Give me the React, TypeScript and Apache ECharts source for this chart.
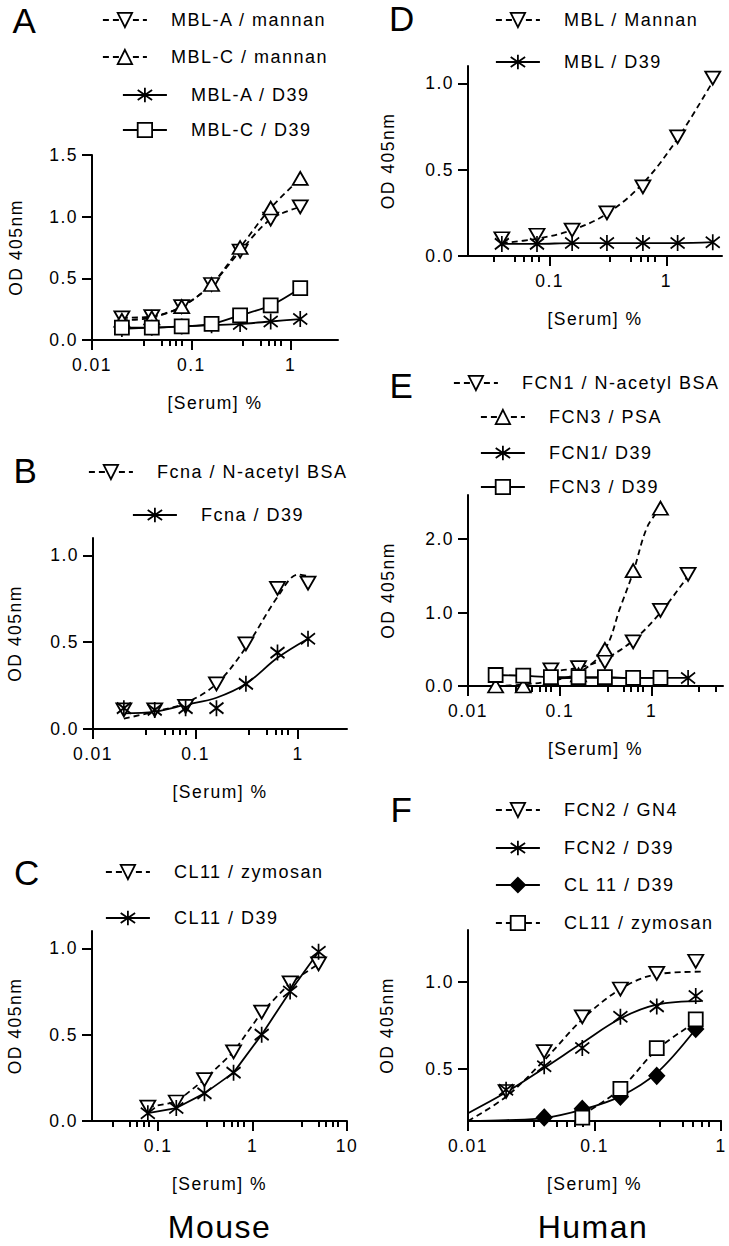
import { useEffect, useRef } from 'react';
import * as echarts from 'echarts';

const FONT = '"Liberation Sans", Arial, Helvetica, sans-serif';

// ---- values: [Serum] % (x) and OD 405nm (y) ----

// A: mouse MBL
const xA = [0.02, 0.04, 0.08, 0.16, 0.31, 0.63, 1.25];
const mblAMannan = [0.18, 0.19, 0.27, 0.45, 0.72, 0.98, 1.08];
const mblCMannan = [0.16, 0.18, 0.27, 0.45, 0.75, 1.07, 1.31];
const mblAD39 = [0.09, 0.1, 0.11, 0.12, 0.13, 0.15, 0.17];
const mblCD39 = [0.1, 0.1, 0.11, 0.13, 0.2, 0.28, 0.42];

// B: mouse ficolin A
const xB = [0.02, 0.04, 0.08, 0.16, 0.31, 0.63, 1.25];
const fcnaNAcetyl = [0.11, 0.11, 0.13, 0.26, 0.49, 0.81, 0.84];
const fcnaD39 = [0.12, 0.11, 0.12, 0.12, 0.26, 0.44, 0.52];
const fcnaNAcetylFit = [[0.02, 0.06], [0.04, 0.1], [0.08, 0.15], [0.16, 0.26], [0.31, 0.47], [0.63, 0.76], [1.0, 0.89], [1.25, 0.88]];
const fcnaD39Fit = [[0.02, 0.09], [0.04, 0.1], [0.08, 0.14], [0.16, 0.18], [0.31, 0.26], [0.63, 0.41], [1.25, 0.52]];

// C: mouse CL-11
const xC = [0.078, 0.156, 0.31, 0.63, 1.25, 2.5, 5];
const cl11Zymosan = [0.08, 0.11, 0.24, 0.4, 0.63, 0.8, 0.91];
const cl11D39 = [0.045, 0.075, 0.16, 0.28, 0.5, 0.75, 0.98];

// D: human MBL
const xD = [0.039, 0.078, 0.156, 0.31, 0.63, 1.25, 2.5];
const mblMannan = [0.1, 0.12, 0.15, 0.25, 0.4, 0.69, 1.03];
const mblD39 = [0.07, 0.07, 0.075, 0.075, 0.075, 0.075, 0.08];
const mblMannanFit = [[0.039, 0.075], [0.078, 0.1], [0.156, 0.15], [0.31, 0.245], [0.63, 0.42], [1.25, 0.68], [2.5, 1.01]];

// E: human ficolin-1 / ficolin-3
const xE = [0.02, 0.04, 0.08, 0.16, 0.31, 0.63, 1.25, 2.5];
const fcn1NAcetyl = [null, null, 0.22, 0.25, 0.33, 0.6, 1.03, 1.52];
const fcn3Psa = [0, 0, 0.1, 0.15, 0.5, 1.57, 2.42, null];
const fcn1D39 = [null, null, 0.1, 0.11, 0.11, 0.11, 0.11, 0.11];
const fcn3D39 = [0.15, 0.14, 0.12, 0.12, 0.12, 0.11, 0.11, null];
const fcn1NAcetylFit = [[0.08, 0.2], [0.16, 0.25], [0.31, 0.37], [0.63, 0.62], [1.25, 1.0], [2.5, 1.5]];
const fcn3PsaFit = [[0.02, 0.0], [0.04, 0.02], [0.08, 0.07], [0.16, 0.18], [0.31, 0.5], [0.45, 1.05], [0.63, 1.55], [0.9, 2.17], [1.25, 2.42]];

// F: human ficolin-2 / CL-11
const xF = [0.02, 0.04, 0.08, 0.16, 0.31, 0.63];
const fcn2Gn4 = [0.37, 0.6, 0.8, 0.96, 1.05, 1.12];
const fcn2D39 = [0.38, 0.515, 0.62, 0.8, 0.86, 0.92];
const cl11D39Human = [null, 0.22, 0.27, 0.34, 0.46, 0.73];
const cl11ZymosanHuman = [null, null, 0.22, 0.385, 0.62, 0.785];
const fcn2Gn4Fit = [[0.01, 0.2], [0.02, 0.34], [0.04, 0.55], [0.08, 0.785], [0.16, 0.96], [0.31, 1.045], [0.7, 1.06]];
const fcn2D39Fit = [[0.01, 0.245], [0.02, 0.365], [0.04, 0.505], [0.08, 0.65], [0.16, 0.79], [0.31, 0.87], [0.7, 0.89]];
const cl11D39HumanFit = [[0.01, 0.2], [0.02, 0.205], [0.04, 0.217], [0.08, 0.265], [0.16, 0.342], [0.31, 0.477], [0.63, 0.73]];
const cl11ZymosanHumanFit = [[0.08, 0.235], [0.16, 0.385], [0.31, 0.61], [0.63, 0.77]];

// tick marks
const xMajorA = [0.01, 0.1, 1];
const xMajorC = [0.1, 1, 10];
const xMajorD = [0.1, 1];
const xMinorSteps = [3.3, 5, 6, 7, 8];
const decades = [0.001, 0.01, 0.1, 1, 10];
const yTicksA = [0, 0.5, 1, 1.5];
const yTicksB = [0, 0.5, 1];
const yTicksE = [0, 1, 2];
const yTicksF = [0.5, 1];

// ---- marker styles ----
type Marker = { symbol: string; size: number | number[]; rotate: number; fill: string };
const ASTERISK = 'path://M7,0L7,16M0,2.5L14,13.5M0,13.5L14,2.5';
const DOWN: Marker = { symbol: 'triangle', size: [15, 13], rotate: 180, fill: '#fff' };
const UP: Marker = { symbol: 'triangle', size: [15, 13], rotate: 0, fill: '#fff' };
const STAR: Marker = { symbol: ASTERISK, size: [14, 16], rotate: 0, fill: '#000' };
const SQUARE: Marker = { symbol: 'rect', size: 14, rotate: 0, fill: '#fff' };
const DIAMOND: Marker = { symbol: 'diamond', size: [15, 16], rotate: 0, fill: '#000' };

type Curve = { name: string; x: number[]; y: (number | null)[]; fit?: number[][]; marker: Marker; dashed: boolean };
type Panel = {
  id: string;
  box: [number, number, number, number];
  xRange: [number, number];
  yRange: [number, number];
  xMajor: number[];
  yTicks: number[];
  yGap: number;
  smooth: number | false;
  legend: [number, number][];
  curves: Curve[];
};

const PANELS: Panel[] = [
  {
    id: 'A', box: [92, 155, 246, 185], xRange: [0.01, 3], yRange: [0, 1.5], xMajor: xMajorA, yTicks: yTicksA, yGap: 67, smooth: 0.3,
    legend: [[102, 20], [102, 57], [122, 95], [122, 130]],
    curves: [
      { name: 'MBL-A / mannan', x: xA, y: mblAMannan, marker: DOWN, dashed: true },
      { name: 'MBL-C / mannan', x: xA, y: mblCMannan, marker: UP, dashed: true },
      { name: 'MBL-A / D39', x: xA, y: mblAD39, marker: STAR, dashed: false },
      { name: 'MBL-C / D39', x: xA, y: mblCD39, marker: SQUARE, dashed: false },
    ],
  },
  {
    id: 'B', box: [93, 538, 254, 191], xRange: [0.01, 3], yRange: [0, 1.1], xMajor: xMajorA, yTicks: yTicksB, yGap: 69, smooth: 0.35,
    legend: [[88, 472], [132, 515]],
    curves: [
      { name: 'Fcna / N-acetyl BSA', x: xB, y: fcnaNAcetyl, fit: fcnaNAcetylFit, marker: DOWN, dashed: true },
      { name: 'Fcna / D39', x: xB, y: fcnaD39, fit: fcnaD39Fit, marker: STAR, dashed: false },
    ],
  },
  {
    id: 'C', box: [92, 931, 255, 190], xRange: [0.02, 10], yRange: [0, 1.1], xMajor: xMajorC, yTicks: yTicksB, yGap: 68, smooth: false,
    legend: [[105, 872], [105, 918]],
    curves: [
      { name: 'CL11 / zymosan', x: xC, y: cl11Zymosan, marker: DOWN, dashed: true },
      { name: 'CL11 / D39', x: xC, y: cl11D39, marker: STAR, dashed: false },
    ],
  },
  {
    id: 'D', box: [468, 66, 254, 190], xRange: [0.02, 3], yRange: [0, 1.1], xMajor: xMajorD, yTicks: yTicksB, yGap: 71, smooth: 0.35,
    legend: [[495, 20], [495, 62]],
    curves: [
      { name: 'MBL / Mannan', x: xD, y: mblMannan, fit: mblMannanFit, marker: DOWN, dashed: true },
      { name: 'MBL / D39', x: xD, y: mblD39, marker: STAR, dashed: false },
    ],
  },
  {
    id: 'E', box: [468, 495, 255, 191], xRange: [0.01, 6], yRange: [0, 2.6], xMajor: xMajorA, yTicks: yTicksE, yGap: 71, smooth: 0.35,
    legend: [[453, 383], [480, 417], [480, 453], [480, 487]],
    curves: [
      { name: 'FCN1 / N-acetyl BSA', x: xE, y: fcn1NAcetyl, fit: fcn1NAcetylFit, marker: DOWN, dashed: true },
      { name: 'FCN3 / PSA', x: xE, y: fcn3Psa, fit: fcn3PsaFit, marker: UP, dashed: true },
      { name: 'FCN1/ D39', x: xE, y: fcn1D39, marker: STAR, dashed: false },
      { name: 'FCN3 / D39', x: xE, y: fcn3D39, marker: SQUARE, dashed: false },
    ],
  },
  {
    id: 'F', box: [468, 930, 254, 191], xRange: [0.01, 1], yRange: [0.2, 1.3], xMajor: xMajorA, yTicks: yTicksF, yGap: 72, smooth: 0.35,
    legend: [[495, 810], [495, 848], [495, 885], [495, 923]],
    curves: [
      { name: 'FCN2 / GN4', x: xF, y: fcn2Gn4, fit: fcn2Gn4Fit, marker: DOWN, dashed: true },
      { name: 'FCN2 / D39', x: xF, y: fcn2D39, fit: fcn2D39Fit, marker: STAR, dashed: false },
      { name: 'CL 11 / D39', x: xF, y: cl11D39Human, fit: cl11D39HumanFit, marker: DIAMOND, dashed: false },
      { name: 'CL11 / zymosan', x: xF, y: cl11ZymosanHuman, fit: cl11ZymosanHumanFit, marker: SQUARE, dashed: true },
    ],
  },
];

const LETTERS = [
  { t: 'A', x: 25, y: 20 },
  { t: 'B', x: 26, y: 470.5 },
  { t: 'C', x: 27.5, y: 872.5 },
  { t: 'D', x: 402.5, y: 18.5 },
  { t: 'E', x: 402, y: 385 },
  { t: 'F', x: 402, y: 809.5 },
];
const GROUPS = [
  { t: 'Mouse', x: 219.5, y: 1226.5 },
  { t: 'Human', x: 593, y: 1226.5 },
];

const DASH = [6, 4];
const LINE_W = 1.8;
const BORDER_W = 1.8;
const fmtX = (v: number) => String(parseFloat(Number(v).toPrecision(6)));
const textBase = { color: '#000', fontFamily: FONT };

function buildOption(): echarts.EChartsOption {
  const grid: any[] = [];
  const xAxis: any[] = [];
  const yAxis: any[] = [];
  const series: any[] = [];
  const legend: any[] = [];

  PANELS.forEach((p, i) => {
    const [left, top, width, height] = p.box;
    grid.push({ left, top, width, height });

    const minor: number[] = [];
    decades.forEach((d) =>
      xMinorSteps.forEach((s) => {
        const v = parseFloat((d * s).toPrecision(6));
        if (v > p.xRange[0] && v < p.xRange[1]) minor.push(v);
      })
    );

    xAxis.push({
      type: 'log', gridIndex: i, min: p.xRange[0], max: p.xRange[1], position: 'bottom',
      axisLine: { onZero: false, lineStyle: { color: '#000', width: 2 } },
      axisTick: { customValues: p.xMajor, length: 10, lineStyle: { color: '#000', width: 2 } },
      axisLabel: { customValues: p.xMajor, formatter: fmtX, margin: 16, fontSize: 17.5, ...textBase },
      splitLine: { show: false },
      name: '[Serum] %', nameLocation: 'middle', nameGap: 54,
      nameTextStyle: { fontSize: 17.5, ...textBase },
    });
    xAxis.push({
      type: 'log', gridIndex: i, min: p.xRange[0], max: p.xRange[1], position: 'bottom',
      axisLine: { show: false, onZero: false },
      axisTick: { customValues: minor, length: 6, lineStyle: { color: '#000', width: 2 } },
      axisLabel: { show: false },
      splitLine: { show: false },
    });
    yAxis.push({
      type: 'value', gridIndex: i, min: p.yRange[0], max: p.yRange[1],
      axisLine: { show: true, onZero: false, lineStyle: { color: '#000', width: 2 } },
      axisTick: { show: true, customValues: p.yTicks, length: 10, lineStyle: { color: '#000', width: 2 } },
      axisLabel: { customValues: p.yTicks, formatter: (v: number) => v.toFixed(1), margin: 14, fontSize: 17.5, ...textBase },
      splitLine: { show: false },
      name: 'OD 405nm', nameLocation: 'middle', nameGap: p.yGap,
      nameTextStyle: { fontSize: 17.5, ...textBase },
    });

    p.curves.forEach((c, k) => {
      const id = `${p.id}|${c.name}`;
      const pts = c.x.map((x, j) => [x, c.y[j]]).filter((d) => d[1] !== null);
      const lineStyle = { color: '#000', width: LINE_W, type: c.dashed ? DASH : 'solid' };
      const itemStyle = { color: c.marker.fill, borderColor: '#000', borderWidth: BORDER_W, opacity: 1 };
      series.push({
        type: 'line', name: id, xAxisIndex: 2 * i, yAxisIndex: i,
        data: c.fit ?? pts, smooth: p.smooth, showSymbol: false,
        symbol: c.marker.symbol, symbolRotate: c.marker.rotate, symbolSize: c.marker.size,
        lineStyle, itemStyle, silent: true, z: 2,
      });
      series.push({
        type: 'scatter', xAxisIndex: 2 * i, yAxisIndex: i, data: pts,
        symbol: c.marker.symbol, symbolRotate: c.marker.rotate, symbolSize: c.marker.size,
        itemStyle, silent: true, z: 3,
      });
      const [lx, ly] = p.legend[k];
      legend.push({
        left: lx, top: ly - 9, padding: 0, itemWidth: 44, itemHeight: 18, selectedMode: false,
        formatter: (n: string) => n.split('|')[1],
        textStyle: { fontSize: 18, lineHeight: 18, padding: [0, 0, 0, 19], ...textBase },
        data: [{ name: id, itemStyle: { color: c.marker.fill, borderColor: '#000', borderWidth: BORDER_W }, lineStyle, symbolRotate: c.marker.rotate }],
      });
    });
  });

  const graphic = [
    ...LETTERS.map((l) => ({
      type: 'text', x: l.x, y: l.y, silent: true,
      style: { text: l.t, fontSize: 35, lineHeight: 28, fontFamily: FONT, fill: '#000', align: 'center', verticalAlign: 'middle' },
    })),
    ...GROUPS.map((g) => ({
      type: 'text', x: g.x, y: g.y, silent: true,
      style: { text: g.t, fontSize: 32, fontFamily: FONT, fill: '#000', align: 'center', verticalAlign: 'middle' },
    })),
  ];

  return { animation: false, backgroundColor: '#fff', grid, xAxis, yAxis, series, legend, graphic } as echarts.EChartsOption;
}

export default function App() {
  const chartRef = useRef<HTMLDivElement>(null);

  useEffect(() => {
    if (!chartRef.current) return;
    document.body.style.margin = '0';
    const chart = echarts.init(chartRef.current, undefined, { renderer: 'svg' });
    chart.setOption(buildOption());
    // the figure's lettering is spaced a little wider than plain Arial
    chartRef.current.querySelectorAll('svg text').forEach((t) => t.setAttribute('letter-spacing', '1.5'));
    return () => chart.dispose();
  }, []);

  return <div ref={chartRef} style={{ width: 729, height: 1246 }} />;
}
